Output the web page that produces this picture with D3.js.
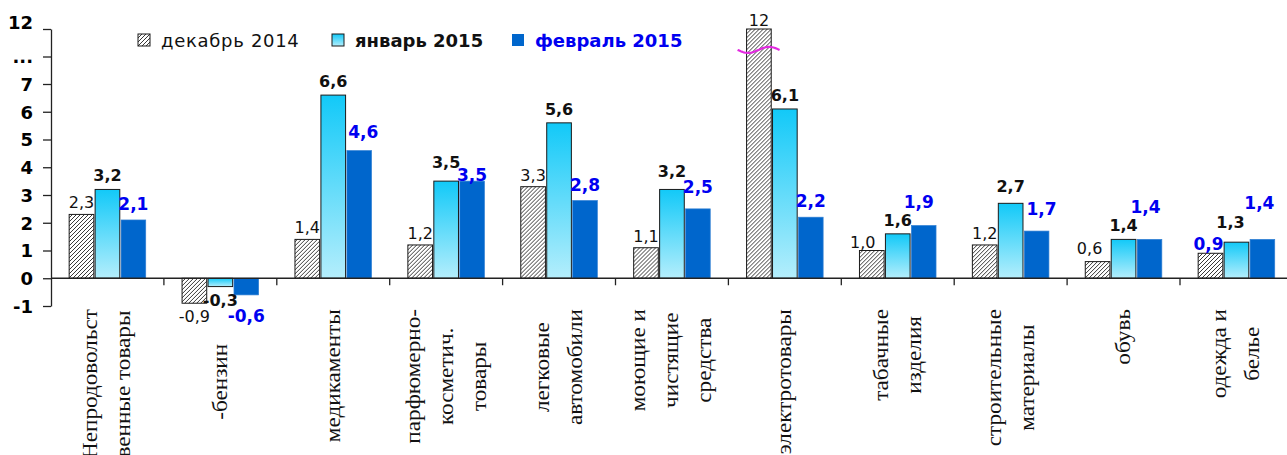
<!DOCTYPE html>
<html>
<head>
<meta charset="utf-8">
<script src="https://cdn.jsdelivr.net/npm/d3@7"></script>
<style>
  body { margin: 0; background: #fff; }
</style>
</head>
<body>
<div id="chart"></div>
<script>
const w = 1287;
const h = 455;

// categories, one entry per line of the rotated label
const categories = [
  ['Непродовольст', 'венные товары'],
  ['-бензин\u00a0\u00a0\u00a0\u00a0\u00a0\u00a0'],
  ['медикаменты'],
  ['парфюмерно-', 'косметич.', 'товары'],
  ['легковые', 'автомобили'],
  ['моющие и', 'чистящие', 'средства'],
  ['электротовары'],
  ['табачные', 'изделия'],
  ['строительные', 'материалы'],
  ['обувь'],
  ['одежда и', 'белье']
];
const seriesNames = ['декабрь 2014', 'январь 2015', 'февраль 2015'];
const dec2014 = [2.3, -0.9, 1.4, 1.2, 3.3, 1.1, 12, 1.0, 1.2, 0.6, 0.9];
const jan2015 = [3.2, -0.3, 6.6, 3.5, 5.6, 3.2, 6.1, 1.6, 2.7, 1.4, 1.3];
const feb2015 = [2.1, -0.6, 4.6, 3.5, 2.8, 2.5, 2.2, 1.9, 1.7, 1.4, 1.4];
const yTicks = [-1, 0, 1, 2, 3, 4, 5, 6, 7, 9.5, 12];
const yTickLabels = ['-1', '0', '1', '2', '3', '4', '5', '6', '7', '...', '12'];

const seriesValues = [dec2014, jan2015, feb2015];

// hand placed labels in the original: [dx, lift above bar]
const labelNudge = {
  '0-6': [0, 3], '0-7': [-9, 3], '0-9': [-8, 8], '0-10': [-2, 3],
  '1-3': [0, 13], '1-5': [0, 12], '1-8': [0, 11], '1-10': [-6, 14],
  '2-2': [4, 13], '2-3': [0, 0], '2-5': [0, 16], '2-7': [-5, 18],
  '2-8': [5, 16], '2-9': [-4, 26], '2-10': [-3, 30]
};

const fmt = v => v >= 10 ? String(v) : (v < 0 ? '-' : '') + Math.abs(v).toFixed(1).replace('.', ',');

const svg = d3.select('#chart')
  .append('svg')
  .attr('width', w)
  .attr('height', h)
  .style('background-color', 'white')
  .style('display', 'block');

const defs = svg.append('defs');
const hatch = defs.append('pattern')
  .attr('id', 'hatch')
  .attr('patternUnits', 'userSpaceOnUse')
  .attr('width', 4)
  .attr('height', 4);
hatch.append('rect').attr('width', 4).attr('height', 4).attr('fill', '#fff');
hatch.append('path')
  .attr('d', 'M-1,1 L1,-1 M0,4 L4,0 M3,5 L5,3')
  .attr('stroke', '#222')
  .attr('stroke-width', 0.9);

const grad = defs.append('linearGradient')
  .attr('id', 'cyan')
  .attr('x1', 0).attr('y1', 0).attr('x2', 0).attr('y2', 1);
grad.append('stop').attr('offset', '0%').attr('stop-color', '#12C9F8');
grad.append('stop').attr('offset', '100%').attr('stop-color', '#B4EEFC');

const fills = ['url(#hatch)', 'url(#cyan)', '#0066CC'];
const strokes = ['#1a1a1a', '#1a1a1a', '#2f7fd3'];

const left = 51;
const x0 = d3.scaleBand()
  .domain(d3.range(categories.length))
  .range([left, left + categories.length * 112.9]);
const x1 = d3.scaleBand()
  .domain([0, 1, 2])
  .range([0, x0.bandwidth()])
  .paddingInner(0.05)
  .paddingOuter(0.7);
// broken axis: 7 .. 12 squeezed
const y = d3.scaleLinear().domain([-1, 7, 12]).range([306, 84, 29]);

// bars
const groups = svg.selectAll('.cat')
  .data(categories)
  .enter()
  .append('g')
  .attr('class', 'cat')
  .attr('transform', (d, i) => `translate(${x0(i)},0)`);

groups.selectAll('rect')
  .data((d, i) => seriesValues.map((vals, s) => ({s, i, v: vals[i]})))
  .enter()
  .append('rect')
  .attr('x', d => x1(d.s))
  .attr('y', d => y(Math.max(0, d.v)))
  .attr('width', x1.bandwidth())
  .attr('height', d => Math.abs(y(d.v) - y(0)))
  .attr('fill', d => fills[d.s])
  .attr('stroke', d => strokes[d.s])
  .attr('stroke-width', d => d.s === 2 ? 0.7 : 1);

// zero line and category ticks
svg.append('line')
  .attr('x1', left).attr('x2', w)
  .attr('y1', y(0)).attr('y2', y(0))
  .attr('stroke', '#222').attr('stroke-width', 1.3);
svg.selectAll('.ctick')
  .data(d3.range(1, categories.length))
  .enter()
  .append('line')
  .attr('x1', i => x0(i)).attr('x2', i => x0(i))
  .attr('y1', y(0)).attr('y2', y(0) + 7)
  .attr('stroke', '#222').attr('stroke-width', 1.3);

// y axis
const yAxis = d3.axisLeft(y)
  .tickValues(yTicks)
  .tickFormat((d, i) => yTickLabels[i])
  .tickSize(8)
  .tickSizeOuter(0)
  .tickPadding(10);
const ga = svg.append('g')
  .attr('transform', `translate(${left},0)`)
  .call(yAxis);
ga.select('.domain').attr('stroke', '#222').attr('stroke-width', 1.3);
ga.selectAll('.tick line').attr('stroke', '#222').attr('stroke-width', 1.3);
ga.selectAll('.tick text')
  .attr('font-family', 'DejaVu Sans')
  .attr('font-weight', 'bold')
  .attr('font-size', '18px')
  .attr('fill', '#000')
  .attr('dy', d => d === 12 ? '-0.05em' : '0.36em');

// axis break mark on the tall bar
const bx = x0(6) + x1(0);
const by = y(10.1);
const wave = d3.range(0, 41).map(k => [bx - 9 + k * 1.05, by + 3 * Math.sin(k / 40 * Math.PI * 2)]);
svg.append('path')
  .attr('d', d3.line()(wave))
  .attr('fill', 'none')
  .attr('stroke', '#E22AE0')
  .attr('stroke-width', 2.2);

// value labels
const labelStyle = [
  {weight: 'normal', size: 16, color: '#111'},
  {weight: 'bold', size: 16, color: '#111'},
  {weight: 'bold', size: 17, color: '#0000F0'}
];
const defaultLift = [6, 8, 10];
seriesValues.forEach((vals, s) => {
  svg.selectAll('.lab' + s)
    .data(vals)
    .enter()
    .append('text')
    .attr('class', 'lab' + s)
    .attr('x', (v, i) => x0(i) + x1(s) + x1.bandwidth() / 2 + ((labelNudge[s + '-' + i] || [0])[0]))
    .attr('y', (v, i) => {
      if (v < 0) return y(v) + (s === 2 ? 27 : 19);
      const n = labelNudge[s + '-' + i];
      return y(v) - (n ? n[1] : defaultLift[s]);
    })
    .attr('text-anchor', 'middle')
    .attr('font-family', 'DejaVu Sans')
    .attr('font-weight', (v, i) => (s === 0 && i === 10) ? 'bold' : labelStyle[s].weight)
    .attr('font-size', (v, i) => ((s === 0 && i === 10) ? 17 : labelStyle[s].size) + 'px')
    .attr('fill', (v, i) => (s === 0 && i === 10) ? '#0000F0' : labelStyle[s].color)
    .text(fmt);
});

// rotated category labels
const stretch = 1.16;
const lineGap = 33;
const labelTop = 309;
categories.forEach((lines, i) => {
  const cx = x0(i) + x0.bandwidth() / 2;
  const g = svg.append('g');
  const texts = lines.map((t, j) => g.append('text')
    .attr('text-anchor', 'middle')
    .attr('dominant-baseline', 'central')
    .attr('font-family', 'Liberation Serif')
    .attr('font-size', '20px')
    .attr('fill', '#111')
    .style('white-space', 'pre')
    .text(t));
  const maxLen = d3.max(texts, t => t.node().getComputedTextLength()) * stretch;
  texts.forEach((t, j) => {
    const dx = (j - (lines.length - 1) / 2) * lineGap;
    t.attr('transform', `translate(${cx + dx},${labelTop + maxLen / 2}) rotate(-90) scale(${stretch},1)`);
  });
});

// legend
const legend = [
  {x: 138, label: seriesNames[0], weight: 'normal', color: '#111', spacing: 0.7},
  {x: 332, label: seriesNames[1], weight: 'bold', color: '#111', spacing: 0},
  {x: 512, label: seriesNames[2], weight: 'bold', color: '#0000F0', spacing: 0}
];
const lg = svg.selectAll('.legend')
  .data(legend)
  .enter()
  .append('g')
  .attr('class', 'legend')
  .attr('transform', d => `translate(${d.x},34)`);
lg.append('rect')
  .attr('width', 12)
  .attr('height', 12)
  .attr('fill', (d, i) => fills[i])
  .attr('stroke', (d, i) => i === 2 ? 'none' : '#1a1a1a');
lg.append('text')
  .attr('x', 23)
  .attr('y', 13)
  .attr('font-family', 'DejaVu Sans')
  .attr('font-size', '18px')
  .attr('font-weight', d => d.weight)
  .attr('letter-spacing', d => d.spacing)
  .attr('fill', d => d.color)
  .text(d => d.label);
</script>
</body>
</html>
